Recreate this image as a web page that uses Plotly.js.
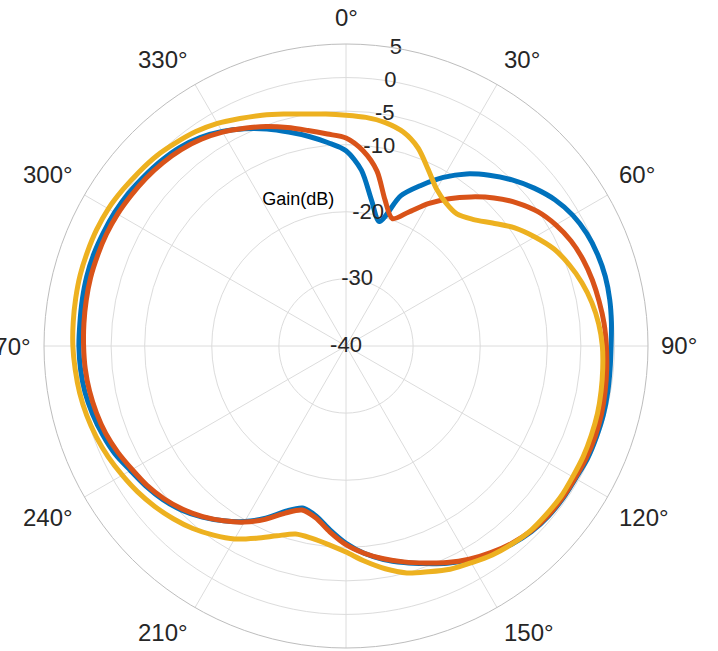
<!DOCTYPE html>
<html>
<head>
<meta charset="utf-8">
<script src="https://cdn.plot.ly/plotly-3.0.1.min.js"></script>
<style>html,body{margin:0;padding:0;background:#fff;}#chart{width:718px;height:651px;}</style>
</head>
<body>
<div id="chart"></div>
<script>
// Angles (degrees, clockwise from top)
const theta = [0,5,10,15,20,25,30,35,40,45,50,55,60,65,70,75,80,85,90,95,100,105,110,115,120,125,130,135,140,145,150,155,160,165,170,175,180,185,190,195,200,205,210,215,220,225,230,235,240,245,250,255,260,265,270,275,280,285,290,295,300,305,310,315,320,325,330,335,340,345,350,355,360];

// Gain (dB) per series
const gainBlue = [-10.9,-13.7,-18.0,-20.8,-16.2,-13.6,-11.0,-8.7,-6.8,-5.0,-3.4,-2.0,-1.0,-0.4,-0.1,0.0,-0.1,-0.3,-0.5,-0.5,-0.4,-0.3,-0.3,-0.3,-0.5,-0.5,-0.6,-0.9,-1.5,-2.3,-3.2,-4.3,-5.5,-6.6,-7.7,-9.0,-10.6,-12.5,-14.3,-15.0,-13.8,-11.7,-9.8,-8.2,-6.7,-5.4,-4.4,-3.6,-2.9,-2.0,-1.4,-0.9,-0.5,-0.3,-0.2,-0.2,-0.1,0.0,0.0,-0.1,-0.2,-0.4,-0.7,-1.0,-1.4,-2.1,-3.1,-4.3,-5.6,-7.0,-8.3,-9.6,-10.9];
const gainOrange = [-9.0,-10.8,-13.5,-17.5,-19.8,-18.0,-15.5,-13.2,-11.0,-8.8,-6.8,-5.1,-3.9,-3.0,-2.4,-2.0,-1.7,-1.4,-1.2,-1.0,-0.8,-0.6,-0.5,-0.5,-0.6,-0.6,-0.7,-1.0,-1.6,-2.4,-3.3,-4.4,-5.6,-6.7,-7.8,-9.0,-10.4,-12.2,-14.0,-14.7,-13.5,-11.5,-9.7,-8.2,-6.8,-5.6,-4.6,-3.8,-3.2,-2.5,-1.9,-1.5,-1.2,-1.0,-0.9,-0.8,-0.7,-0.6,-0.6,-0.6,-0.7,-0.9,-1.1,-1.4,-1.8,-2.4,-3.2,-4.2,-5.2,-6.3,-7.4,-8.3,-9.0];
const gainYellow = [-5.6,-5.8,-6.2,-7.0,-8.6,-11.0,-13.0,-14.0,-14.3,-13.3,-11.5,-9.3,-7.5,-5.8,-4.6,-3.6,-2.8,-2.2,-1.8,-1.6,-1.4,-1.2,-1.1,-1.0,-1.0,-0.9,-1.0,-1.1,-1.5,-2.0,-2.7,-3.3,-4.2,-5.0,-6.3,-7.8,-9.3,-10.3,-10.9,-11.0,-9.9,-8.4,-6.8,-5.6,-4.5,-3.6,-2.8,-2.1,-1.5,-0.9,-0.4,0.0,0.3,0.5,0.7,0.8,0.9,1.0,1.0,1.0,0.9,0.6,0.3,0.0,-0.5,-1.0,-1.7,-2.6,-3.4,-4.2,-4.9,-5.3,-5.6];

// Axis ticks and labels
const angTickVals = [0,30,60,90,120,150,180,210,240,270,300,330];
const angTickText = ['0°','30°','60°','90°','120°','150°','','210°','240°','270°','300°','330°'];
const radGridVals = [-30,-20,-10,-5,0];
const radLabelVals = [-40,-30,-20,-10,-5,0,5];
const radLabelText = ['-40','-30','-20','-10','-5','0','5'];
const radLabelAngle = 9.5;
const radRange = [-40,5];
const unitLabel = 'Gain(dB)';
const unitLabelPos = {r: -17.2, theta: 341.8};

const font = '"Liberation Sans", Arial, Helvetica, sans-serif';
const textCol = '#262626';
const W = 718, H = 651;
const dom = {x:[44/W, 648/W], y:[3/H, 607/H]};

function lineTrace(r, color){
  return {type:'scatterpolar', mode:'lines', r:r, theta:theta,
    line:{color:color, width:5, shape:'spline', smoothing:0.8}, hoverinfo:'skip', showlegend:false};
}

const data = [
  lineTrace(gainBlue,'#0072BD'),
  lineTrace(gainOrange,'#D95319'),
  lineTrace(gainYellow,'#EDB120'),
  {type:'scatterpolar', mode:'text', r:radLabelVals, theta:radLabelVals.map(()=>radLabelAngle),
   text:radLabelText, textposition:'middle center', cliponaxis:false,
   textfont:{family:font, size:22, color:textCol}, hoverinfo:'skip', showlegend:false},
  {type:'scatterpolar', mode:'text', r:[unitLabelPos.r], theta:[unitLabelPos.theta],
   text:[unitLabel], textposition:'middle center', cliponaxis:false,
   textfont:{family:font, size:18, color:'#000'}, hoverinfo:'skip', showlegend:false}
];

// Angular tick labels placed around the polar circle (computed from the domain geometry),
// aligned by quadrant like MATLAB polar axes.
const cx = (dom.x[0] + dom.x[1]) / 2 * W;
const cyTop = H - (dom.y[0] + dom.y[1]) / 2 * H;
const R = (dom.x[1] - dom.x[0]) * W / 2;
const annotations = [];
angTickVals.forEach((a, i) => {
  const t = angTickText[i];
  if (!t) return;
  const d = R + 12;
  const rad = a * Math.PI / 180;
  const px = cx + d * Math.sin(rad);
  const py = cyTop - d * Math.cos(rad);
  const xa = (a === 0 || a === 180) ? 'center' : (a < 180 ? 'left' : 'right');
  const ya = (a === 90 || a === 270) ? 'middle' : ((a < 90 || a > 270) ? 'bottom' : 'top');
  annotations.push({xref:'paper', yref:'paper', x:px / W, y:1 - py / H,
    xanchor:xa, yanchor:ya, showarrow:false, text:t, borderpad:0,
    font:{family:font, size:24, color:textCol}});
});

const layout = {
  width:W, height:H,
  margin:{l:0,r:0,t:0,b:0,pad:0},
  paper_bgcolor:'#fff',
  font:{family:font, color:textCol},
  showlegend:false,
  annotations: annotations,
  polar:{
    domain:dom,
    bgcolor:'#fff',
    angularaxis:{
      rotation:90, direction:'clockwise',
      tickmode:'array', tickvals:angTickVals, ticktext:angTickText,
      showticklabels:false, ticks:'',
      showline:true, linecolor:'#bdbdbd', linewidth:1,
      showgrid:true, gridcolor:'#dcdcdc', gridwidth:1
    },
    radialaxis:{
      range:radRange, tickmode:'array', tickvals:radGridVals,
      showticklabels:false, ticks:'', showline:false,
      showgrid:true, gridcolor:'#dcdcdc', gridwidth:1, angle:90
    }
  }
};

Plotly.newPlot('chart', data, layout, {displayModeBar:false, staticPlot:true});
</script>
</body>
</html>
